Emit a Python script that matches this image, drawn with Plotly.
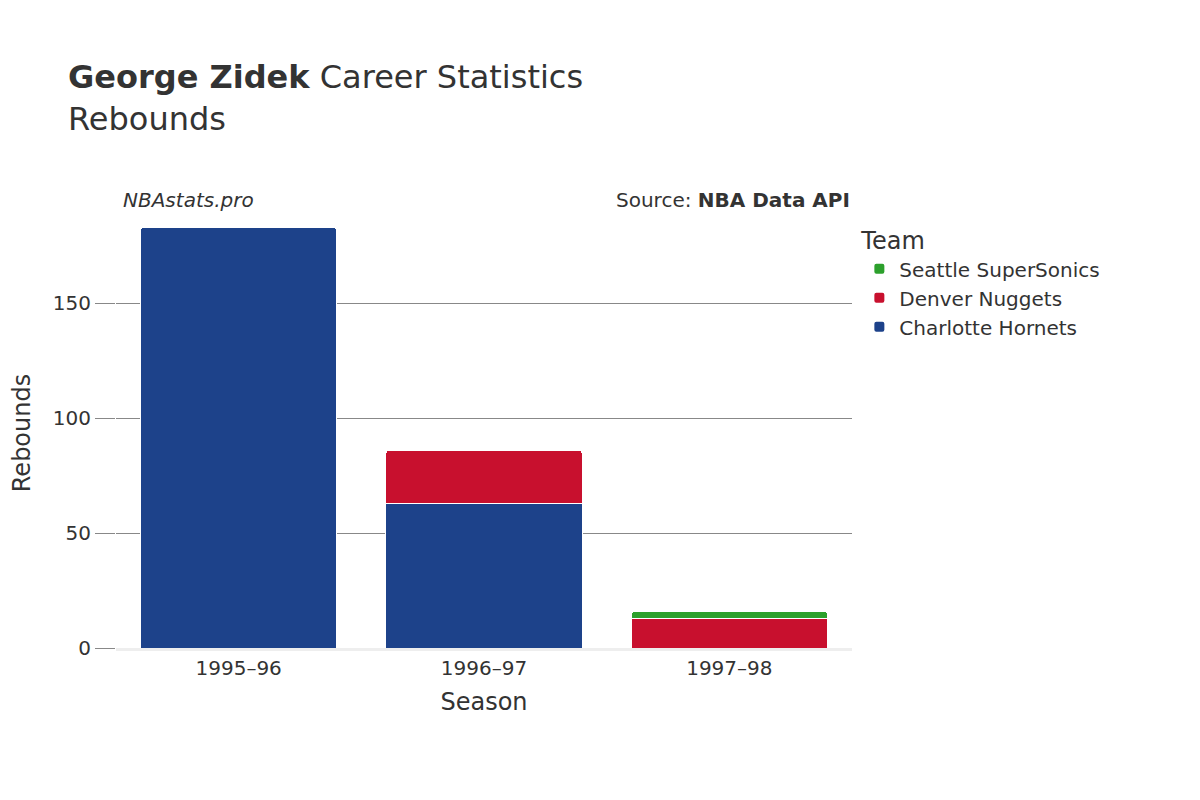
import plotly.graph_objects as go

seasons = ["1995–96", "1996–97", "1997–98"]
teams = ["Charlotte Hornets", "Denver Nuggets", "Seattle SuperSonics"]
colors = ["#1d428a", "#c8102e", "#2ca02c"]
values = {
    "Charlotte Hornets": [183, 63, 0],
    "Denver Nuggets": [0, 23, 13],
    "Seattle SuperSonics": [0, 0, 3],
}

fig = go.Figure()
for team, color in zip(teams, colors):
    vals = values[team]
    xs = [s for s, v in zip(seasons, vals) if v]
    ys = [v for v in vals if v]
    fig.add_trace(go.Bar(x=xs, y=ys, name=team, marker_color=color,
                         marker_line=dict(color="white", width=1)))

fig.update_layout(
    barmode="stack",
    barcornerradius=4,
    width=1200, height=800,
    paper_bgcolor="white", plot_bgcolor="white",
    font=dict(family="DejaVu Sans", color="#333", size=20),
    title=dict(text="<b>George Zidek</b> Career Statistics<br>Rebounds",
               x=0.05, y=0.9, font=dict(size=32)),
    margin=dict(l=108, r=356, t=210, b=160),
    bargap=0.2,
    legend=dict(title=dict(text="Team", font=dict(size=24)), x=1.01, y=1.0,
                font=dict(size=20), itemsizing="constant"),
    xaxis=dict(title=dict(text="Season", font=dict(size=24)), showgrid=False,
               linecolor="#eee", linewidth=3),
    yaxis=dict(title=dict(text="Rebounds", font=dict(size=24)), gridcolor="#888",
               ticks="outside", tickcolor="#888", ticklen=20, tickvals=[0, 50, 100, 150],
               zeroline=False, range=[0, 187]),
    annotations=[
        dict(text="<i>NBAstats.pro</i>", xref="paper", yref="paper", x=0.0, y=1.01,
             xanchor="left", yanchor="bottom", showarrow=False, font=dict(size=20), xshift=5),
        dict(text="Source: <b>NBA Data API</b>", xref="paper", yref="paper", x=1.0, y=1.01,
             xanchor="right", yanchor="bottom", showarrow=False, font=dict(size=20)),
    ],
)

fig.write_html("out.html")
